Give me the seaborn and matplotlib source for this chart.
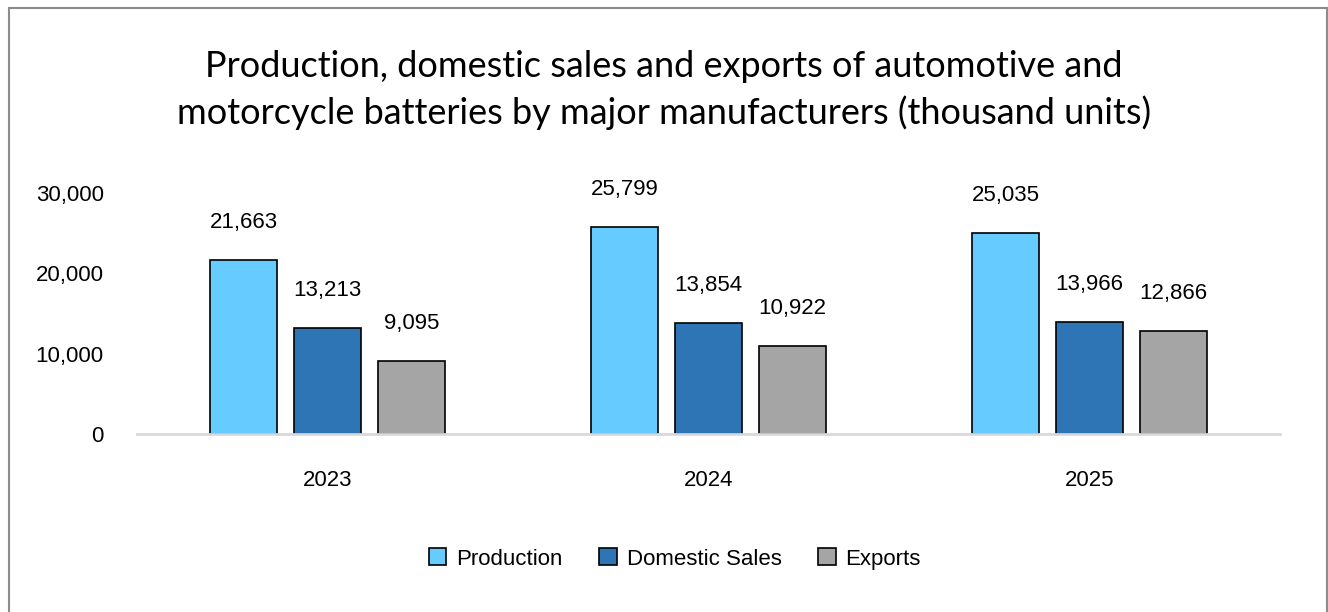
import matplotlib
matplotlib.use("Agg")
import matplotlib.pyplot as plt
from matplotlib.patches import Rectangle
import seaborn as sns
import pandas as pd

years = ["2023", "2024", "2025"]
series = ["Production", "Domestic Sales", "Exports"]
production = [21663, 25799, 25035]
domestic_sales = [13213, 13854, 13966]
exports = [9095, 10922, 12866]
y_ticks = [0, 10000, 20000, 30000]
colors = ["#66CCFF", "#2E75B6", "#A5A5A5"]

df = pd.DataFrame({
    "year": years * 3,
    "series": [s for s in series for _ in years],
    "value": production + domestic_sales + exports,
})

sns.set_theme(style="white")
plt.rcParams["font.family"] = ["Liberation Sans", "DejaVu Sans"]
plt.rcParams["text.color"] = "#000000"

fig = plt.figure(figsize=(13.28, 6.12), dpi=100)
ax = fig.add_axes([137 / 1328, 1 - 434 / 612, (1280 - 137) / 1328, (434 - 193) / 612])

sns.barplot(data=df, x="year", y="value", hue="series", hue_order=series,
            palette=colors, saturation=1, width=0.66, gap=0.2, edgecolor="black",
            linewidth=1.2, ax=ax, legend=True)

for container in ax.containers:
    for bar in container:
        h = bar.get_height()
        ax.annotate(f"{h:,.0f}", (bar.get_x() + bar.get_width() / 2, h),
                    xytext=(0, 27), textcoords="offset points",
                    ha="center", va="center", fontsize=16, color="#000000",
                    annotation_clip=False)

ax.set_xlim(-0.5, 2.5)
ax.set_ylim(0, 30000)
ax.set_yticks(y_ticks)
ax.set_yticklabels([f"{v:,}" for v in y_ticks])
ax.tick_params(axis="y", length=0, pad=24, labelsize=16, labelcolor="#000000")
ax.tick_params(axis="x", length=0, pad=26, labelsize=16, labelcolor="#000000")
ax.set_xlabel("")
ax.set_ylabel("")
for side in ["top", "right", "left"]:
    ax.spines[side].set_visible(False)
ax.spines["bottom"].set_color("#D9D9D9")
ax.spines["bottom"].set_linewidth(2)
ax.set_facecolor("none")

handles, labels = ax.get_legend_handles_labels()
ax.legend_.remove()
fig.legend(handles, labels, loc="center", bbox_to_anchor=(675 / 1328, 1 - 559 / 612),
           ncol=3, frameon=False, fontsize=16, handlelength=0.78, handleheight=0.78,
           handletextpad=0.45, columnspacing=1.65, borderpad=0, labelcolor="#000000")

fig.text(0.5, 1 - 90 / 612,
         "Production, domestic sales and exports of automotive and\n"
         "motorcycle batteries by major manufacturers (thousand units)",
         ha="center", va="center", fontsize=26, linespacing=1.45,
         family=["Lato", "DejaVu Sans"], color="#000000")

fig.patches.append(Rectangle((8.5 / 1328, -0.05), (1327 - 8.5) / 1328, 1.05 - 7.5 / 612,
                             transform=fig.transFigure, fill=False,
                             edgecolor="#8C8C8C", linewidth=1.5))

fig.savefig("out.png", dpi=100, facecolor="white")
